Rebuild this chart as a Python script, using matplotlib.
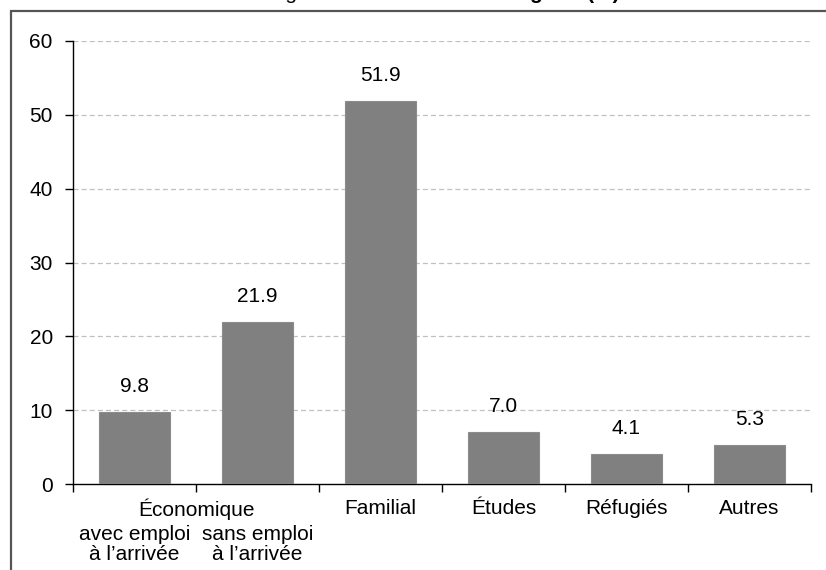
import matplotlib.pyplot as plt
from matplotlib.patches import Rectangle

plt.rcParams['font.family'] = ['Liberation Sans', 'DejaVu Sans']

categories = ["avec emploi\nà l’arrivée", "sans emploi\nà l’arrivée", "Familial", "Études", "Réfugiés", "Autres"]
values = [9.8, 21.9, 51.9, 7.0, 4.1, 5.3]
yticks = [0, 10, 20, 30, 40, 50, 60]
group_label = "Économique"

W, H = 826, 570
FS = 15
fig = plt.figure(figsize=(W / 100, H / 100), dpi=100)
ax = fig.add_axes([73 / W, 1 - 484 / H, (811 - 73) / W, (484 - 41) / H])

x = range(len(values))
ax.bar(x, values, width=0.57, color="#808080", edgecolor="#8c8c8c", linewidth=0.8, zorder=3)
for xi, v in zip(x, values):
    ax.annotate(f"{v:.1f}", xy=(xi, v), xytext=(0, 16), textcoords="offset pixels",
                ha="center", va="bottom", fontsize=FS)

ax.set_xlim(-0.5, len(values) - 0.5)
ax.set_ylim(0, 60)
ax.set_yticks(yticks)
ax.set_yticklabels([str(t) for t in yticks], fontsize=FS)
ax.set_xticks([i - 0.5 for i in range(len(values) + 1)])
ax.set_xticklabels([])
ax.tick_params(axis="x", direction="out", length=5.5, width=1, color="black")
ax.tick_params(axis="y", direction="out", length=5.5, width=1, color="black", pad=9)

for yv in yticks[1:]:
    ax.axhline(yv, color="#c0c0c0", linestyle=(0, (4, 2.5)), linewidth=0.9, zorder=1)

for s in ["top", "right"]:
    ax.spines[s].set_visible(False)
ax.spines["left"].set_linewidth(1)
ax.spines["bottom"].set_linewidth(1)

# category labels below the axis
for i, lab in enumerate(categories):
    lines = lab.split("\n")
    if len(lines) == 2:
        for k, ln in enumerate(lines):
            ax.annotate(ln, xy=(i, 0), xytext=(0, -51 - 20 * k), textcoords="offset pixels",
                        ha="center", va="center", fontsize=FS)
    else:
        ax.annotate(lab, xy=(i, 0), xytext=(0, -25), textcoords="offset pixels",
                    ha="center", va="center", fontsize=FS)
ax.annotate(group_label, xy=(0.5, 0), xytext=(0, -25), textcoords="offset pixels",
            ha="center", va="center", fontsize=FS)

# outer frame, partly outside the picture
fig.patches.append(Rectangle((11 / W, -0.2), 1.2, 1 - 11 / H + 0.2, transform=fig.transFigure,
                             fill=False, edgecolor="#555555", linewidth=1.6))

# title, cut off at the top edge of the picture
t1 = fig.text(240 / W, 1 + 1.5 / H, "Immigrants admis selon la ", ha="left", va="baseline", fontsize=FS)
fig.canvas.draw()
bb = t1.get_window_extent()
fig.text(bb.x1 / W, 1 + 1.5 / H, "catégorie (%)", ha="left", va="baseline", fontsize=FS, fontweight="bold")

fig.savefig("out.png", dpi=100)
